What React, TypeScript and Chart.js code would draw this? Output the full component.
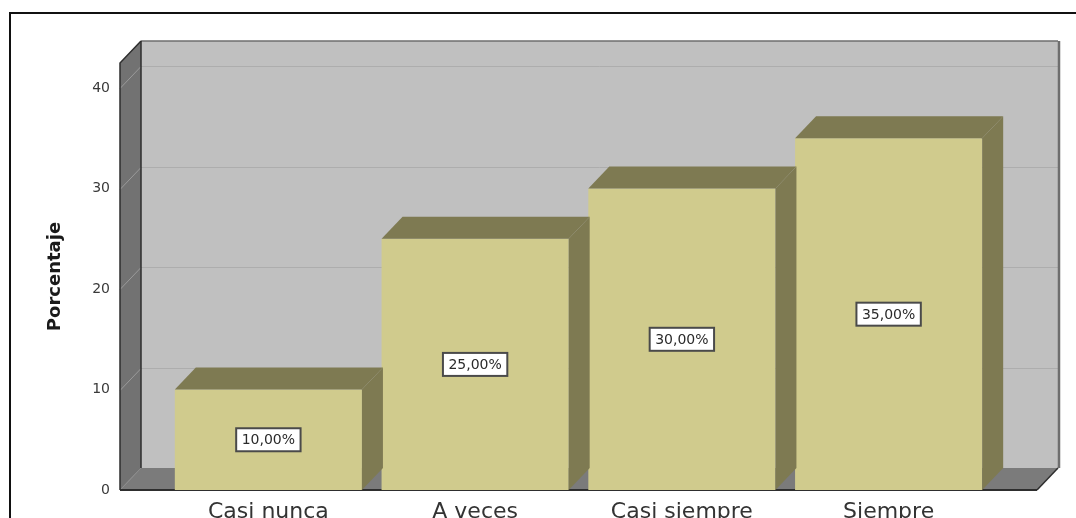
import React, { useEffect, useRef } from "react";
import { Chart, registerables } from "chart.js";

Chart.register(...registerables);

const categories = ["Casi nunca", "A veces", "Casi siempre", "Siempre"];
const percentages = [10, 25, 30, 35];
const yTickValues = [0, 10, 20, 30, 40];
const yAxisTitle = "Porcentaje";
const yMax = 42.5;

const DEPTH_X = 21;
const DEPTH_Y = 22;
const WALL_PAD = 45;

const FRONT = "#d0cb8d";
const SHADE = "#7e7a52";

const formatPct = (v: number) => v.toFixed(2).replace(".", ",") + "%";

const threeD = {
  id: "threeD",
  beforeDraw(chart: any) {
    const { ctx, chartArea: ca, scales, width, height } = chart;
    const ys = scales.y;
    const fl = ca.left - WALL_PAD;
    const fr = ca.right + WALL_PAD;
    const ft = ca.top;
    const fb = ca.bottom;
    const bl = fl + DEPTH_X;
    const br = fr + DEPTH_X;
    const bt = ft - DEPTH_Y;
    const bb = fb - DEPTH_Y;
    ctx.save();
    ctx.fillStyle = "#ffffff";
    ctx.fillRect(0, 0, width, height);
    // outer frame
    ctx.strokeStyle = "#111111";
    ctx.lineWidth = 2;
    ctx.beginPath();
    ctx.moveTo(10, height + 2);
    ctx.lineTo(10, 13);
    ctx.lineTo(width + 2, 13);
    ctx.stroke();
    // back wall
    ctx.fillStyle = "#c0c0c0";
    ctx.fillRect(bl, bt, br - bl, bb - bt);
    // left wall
    ctx.fillStyle = "#727272";
    ctx.beginPath();
    ctx.moveTo(fl, ft);
    ctx.lineTo(bl, bt);
    ctx.lineTo(bl, bb);
    ctx.lineTo(fl, fb);
    ctx.closePath();
    ctx.fill();
    // floor
    ctx.fillStyle = "#7b7b7b";
    ctx.beginPath();
    ctx.moveTo(fl, fb);
    ctx.lineTo(bl, bb);
    ctx.lineTo(br, bb);
    ctx.lineTo(fr, fb);
    ctx.closePath();
    ctx.fill();
    // grid lines
    ctx.lineWidth = 1;
    for (const v of yTickValues) {
      if (v === 0) continue;
      const py = Math.round(ys.getPixelForValue(v)) + 0.5;
      ctx.strokeStyle = "#adadad";
      ctx.beginPath();
      ctx.moveTo(bl, py - DEPTH_Y);
      ctx.lineTo(br, py - DEPTH_Y);
      ctx.stroke();
      ctx.strokeStyle = "#9a9a9a";
      ctx.beginPath();
      ctx.moveTo(fl, py);
      ctx.lineTo(bl, py - DEPTH_Y);
      ctx.stroke();
    }
    // floor diagonal
    ctx.strokeStyle = "#8a8a8a";
    ctx.beginPath();
    ctx.moveTo(fl, fb);
    ctx.lineTo(bl, bb);
    ctx.stroke();
    // back wall edges
    ctx.strokeStyle = "#6e6e6e";
    ctx.lineWidth = 1.5;
    ctx.beginPath();
    ctx.moveTo(bl, bt);
    ctx.lineTo(br, bt);
    ctx.stroke();
    ctx.lineWidth = 2.5;
    ctx.beginPath();
    ctx.moveTo(br + 1, bt);
    ctx.lineTo(br + 1, bb);
    ctx.stroke();
    // dark edges
    ctx.strokeStyle = "#2e2e2e";
    ctx.lineWidth = 1.5;
    ctx.beginPath();
    ctx.moveTo(bl, bt);
    ctx.lineTo(bl, bb);
    ctx.stroke();
    ctx.beginPath();
    ctx.moveTo(fr, fb);
    ctx.lineTo(br, bb);
    ctx.stroke();
    ctx.beginPath();
    ctx.moveTo(bl, bt);
    ctx.lineTo(fl, ft);
    ctx.lineTo(fl, fb);
    ctx.stroke();
    ctx.lineWidth = 2;
    ctx.beginPath();
    ctx.moveTo(fl, fb);
    ctx.lineTo(fr, fb);
    ctx.stroke();
    ctx.restore();
  },
  afterDatasetsDraw(chart: any) {
    const { ctx } = chart;
    const meta = chart.getDatasetMeta(0);
    ctx.save();
    meta.data.forEach((bar: any, i: number) => {
      const L = bar.x - bar.width / 2;
      const R = bar.x + bar.width / 2;
      const T = bar.y;
      const B = bar.base;
      ctx.fillStyle = SHADE;
      // top face
      ctx.beginPath();
      ctx.moveTo(L, T);
      ctx.lineTo(L + DEPTH_X, T - DEPTH_Y);
      ctx.lineTo(R + DEPTH_X, T - DEPTH_Y);
      ctx.lineTo(R, T);
      ctx.closePath();
      ctx.fill();
      // side face
      ctx.beginPath();
      ctx.moveTo(R, T);
      ctx.lineTo(R + DEPTH_X, T - DEPTH_Y);
      ctx.lineTo(R + DEPTH_X, B - DEPTH_Y);
      ctx.lineTo(R, B);
      ctx.closePath();
      ctx.fill();
      // label box
      const text = formatPct(percentages[i]);
      ctx.font = "14px 'DejaVu Sans'";
      const tw = ctx.measureText(text).width;
      const bw = tw + 11;
      const bh = 23;
      const cx = bar.x;
      const cy = (T + B) / 2;
      ctx.fillStyle = "#ffffff";
      ctx.fillRect(cx - bw / 2, cy - bh / 2, bw, bh);
      ctx.strokeStyle = "#4a4a4a";
      ctx.lineWidth = 2;
      ctx.strokeRect(cx - bw / 2, cy - bh / 2, bw, bh);
      ctx.fillStyle = "#2a2a2a";
      ctx.textAlign = "center";
      ctx.textBaseline = "middle";
      ctx.fillText(text, cx, cy + 1);
    });
    ctx.restore();
  },
};

export default function App() {
  const ref = useRef<HTMLCanvasElement | null>(null);
  useEffect(() => {
    if (!ref.current) return;
    const chart = new Chart(ref.current, {
      type: "bar",
      data: {
        labels: categories,
        datasets: [
          {
            data: percentages,
            backgroundColor: FRONT,
            borderWidth: 0,
            barPercentage: 0.905,
            categoryPercentage: 1,
          },
        ],
      },
      options: {
        responsive: false,
        animation: false,
        layout: { padding: { left: 10, right: 84, top: 63, bottom: 0 } },
        plugins: { legend: { display: false }, tooltip: { enabled: false } },
        scales: {
          x: {
            type: "category",
            offset: true,
            grid: { display: false, drawTicks: false },
            border: { display: false },
            ticks: {
              padding: 9,
              color: "#333333",
              font: { family: "'DejaVu Sans'", size: 22 },
              maxRotation: 0,
              autoSkip: false,
            },
            afterFit: (s: any) => {
              s.height = 28;
              s.paddingLeft = 0;
              s.paddingRight = 0;
            },
          },
          y: {
            min: 0,
            max: yMax,
            grid: { display: false, drawTicks: false },
            border: { display: false },
            ticks: {
              stepSize: 10,
              padding: 55,
              color: "#3a3a3a",
              font: { family: "'DejaVu Sans'", size: 14 },
            },
            afterBuildTicks: (s: any) => {
              s.ticks = yTickValues.map((v) => ({ value: v }));
            },
            title: {
              display: true,
              text: yAxisTitle,
              color: "#1a1a1a",
              font: { family: "'DejaVu Sans'", size: 18, weight: "bold" },
              padding: { top: 35, bottom: 0 },
            },
            afterFit: (s: any) => {
              s.width = 155;
              s.paddingTop = 0;
              s.paddingBottom = 0;
            },
          },
        },
      },
      plugins: [threeD],
    });
    return () => chart.destroy();
  }, []);
  return (
    <div style={{ position: "absolute", left: 0, top: 0, width: 1076, height: 518 }}>
      <canvas ref={ref} width={1076} height={518} />
    </div>
  );
}
